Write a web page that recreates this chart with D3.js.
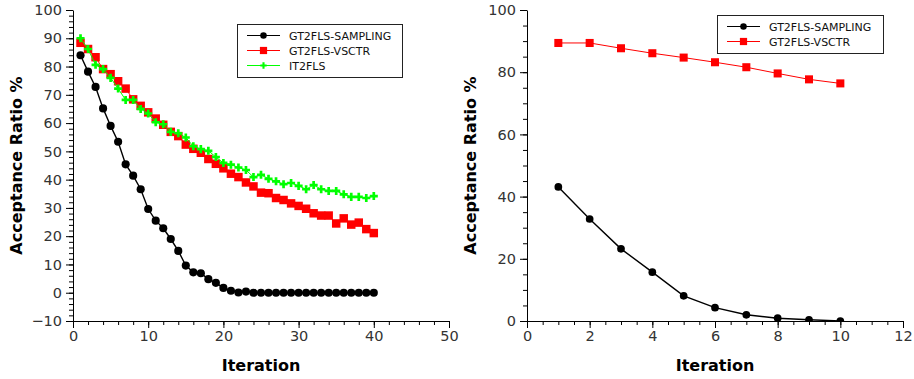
<!DOCTYPE html>
<html>
<head>
<meta charset="utf-8">
<script src="https://cdn.jsdelivr.net/npm/d3@7/dist/d3.min.js"></script>
<style>
  body { margin: 0; background: #fff; }
  svg { display: block; font-family: "DejaVu Sans", sans-serif; }
</style>
</head>
<body>
<svg id="chart" width="914" height="379"></svg>
<script>
// left panel: 40 iterations
const iterLeft = [1, 2, 3, 4, 5, 6, 7, 8, 9, 10, 11, 12, 13, 14, 15, 16, 17, 18, 19, 20,
  21, 22, 23, 24, 25, 26, 27, 28, 29, 30, 31, 32, 33, 34, 35, 36, 37, 38, 39, 40];
const samplingLeft = [84.0, 78.2, 72.8, 65.2, 59.0, 53.4, 45.4, 41.4, 36.6, 29.6,
  25.5, 22.8, 19.0, 14.8, 9.6, 7.2, 6.9, 4.8, 3.5, 1.7,
  0.7, 0.1, 0.4, 0, 0, 0, 0, 0, 0, 0,
  0, 0, 0, 0, 0, 0, 0, 0, 0, 0];
const vsctrLeft = [88.4, 86.2, 83.3, 79.1, 77.3, 74.8, 72.2, 68.4, 66.1, 63.8,
  61.6, 59.4, 56.9, 55.4, 52.4, 50.9, 49.5, 47.3, 45.6, 44.0,
  42.1, 40.9, 39.0, 37.6, 35.4, 35.2, 33.5, 32.8, 31.6, 30.7,
  29.7, 28.1, 27.3, 27.3, 24.5, 26.3, 24.1, 24.8, 22.5, 21.1];
const it2Left = [90.0, 86.2, 80.6, 79.1, 76.0, 72.2, 68.2, 68.2, 65.0, 63.4,
  60.3, 59.6, 56.9, 56.4, 54.9, 51.8, 50.8, 50.2, 48.0, 45.9,
  45.3, 44.3, 43.4, 40.9, 41.7, 40.3, 39.4, 38.4, 38.8, 37.8,
  36.6, 38.1, 36.6, 36.0, 36.0, 34.8, 33.9, 33.9, 33.5, 34.2];

// right panel: 10 iterations
const iterRight = [1, 2, 3, 4, 5, 6, 7, 8, 9, 10];
const samplingRight = [43.1, 32.8, 23.2, 15.7, 8.1, 4.3, 2.0, 0.9, 0.4, 0.0];
const vsctrRight = [89.4, 89.4, 87.7, 86.1, 84.7, 83.2, 81.6, 79.6, 77.7, 76.4];

const seriesNames = ['GT2FLS-SAMPLING', 'GT2FLS-VSCTR', 'IT2FLS'];
const yTitle = 'Acceptance Ratio %';
const xTitle = 'Iteration';

const styles = {
  'GT2FLS-SAMPLING': { color: '#000000', width: 1.4, symbol: d3.symbolCircle, size: 52, legendSize: 34 },
  'GT2FLS-VSCTR': { color: '#ff0000', width: 1, symbol: d3.symbolSquare, size: 72, legendSize: 52 },
  'IT2FLS': { color: '#00ff00', width: 1, symbol: d3.symbolCross, size: 36, legendSize: 22 }
};

const svg = d3.select('#chart');

function drawPanel(cfg) {
  const x = d3.scaleLinear().domain(cfg.xDomain).range([cfg.left, cfg.right]);
  const y = d3.scaleLinear().domain(cfg.yDomain).range([cfg.bottom, cfg.top]);
  const g = svg.append('g');

  const clipId = 'clip-' + cfg.id;
  svg.append('clipPath').attr('id', clipId)
    .append('rect')
    .attr('x', cfg.left).attr('y', cfg.top - 6)
    .attr('width', cfg.right - cfg.left + 6).attr('height', cfg.bottom - cfg.top + 6);

  // minor ticks first, majors on top
  g.append('g')
    .attr('transform', `translate(0,${cfg.bottom})`)
    .call(d3.axisBottom(x).tickValues(cfg.xMinor).tickSize(4).tickFormat(''))
    .call(a => a.select('.domain').remove());
  g.append('g')
    .attr('transform', `translate(${cfg.left},0)`)
    .call(d3.axisLeft(y).tickValues(cfg.yMinor).tickSize(4).tickFormat(''))
    .call(a => a.select('.domain').remove());

  const xAxis = g.append('g')
    .attr('transform', `translate(0,${cfg.bottom})`)
    .call(d3.axisBottom(x).tickValues(cfg.xMajor).tickSize(7).tickSizeOuter(0).tickPadding(3));
  const yAxis = g.append('g')
    .attr('transform', `translate(${cfg.left},0)`)
    .call(d3.axisLeft(y).tickValues(cfg.yMajor).tickSize(7).tickSizeOuter(0).tickPadding(4)
      .tickFormat(d => d < 0 ? '\u2212' + Math.abs(d) : d));

  [xAxis, yAxis].forEach(a => {
    a.selectAll('text').attr('font-size', 14.5).attr('fill', '#333').attr('font-family', 'DejaVu Sans');
    a.selectAll('line').attr('stroke', '#000');
    a.select('.domain').attr('stroke', '#000');
  });

  // axis titles
  g.append('text')
    .attr('x', (cfg.left + cfg.right) / 2).attr('y', 371)
    .attr('text-anchor', 'middle')
    .attr('font-size', 16).attr('font-weight', 'bold')
    .text(xTitle);
  g.append('text')
    .attr('transform', `translate(${cfg.left - 51},${(cfg.top + cfg.bottom) / 2}) rotate(-90)`)
    .attr('text-anchor', 'middle')
    .attr('font-size', 16).attr('font-weight', 'bold')
    .text(yTitle);

  const plot = g.append('g').attr('clip-path', `url(#${clipId})`);
  cfg.series.forEach(s => {
    const st = styles[s.name];
    const pts = cfg.iters.map((it, i) => [it, s.values[i]]);
    plot.append('path')
      .datum(pts)
      .attr('fill', 'none')
      .attr('stroke', st.color)
      .attr('stroke-width', st.width)
      .attr('d', d3.line().x(d => x(d[0])).y(d => y(d[1])));
    plot.selectAll(null)
      .data(pts)
      .join('path')
      .attr('transform', d => `translate(${x(d[0])},${y(d[1])})`)
      .attr('d', d3.symbol().type(st.symbol).size(cfg.markScale * st.size))
      .attr('fill', st.color);
  });

  // legend
  const lg = g.append('g').attr('transform', `translate(${cfg.legend.x},${cfg.legend.y})`);
  const rowH = 15;
  lg.append('rect')
    .attr('x', 0.5).attr('y', 0.5)
    .attr('width', cfg.legend.w).attr('height', cfg.series.length * rowH + 8)
    .attr('fill', '#fff').attr('stroke', '#222').attr('stroke-width', 1);
  cfg.series.forEach((s, i) => {
    const st = styles[s.name];
    const cy = 11.5 + i * rowH;
    lg.append('line')
      .attr('x1', 10).attr('x2', 43).attr('y1', cy).attr('y2', cy)
      .attr('stroke', st.color).attr('stroke-width', 1);
    lg.append('path')
      .attr('transform', `translate(26.5,${cy})`)
      .attr('d', d3.symbol().type(st.symbol).size(st.legendSize))
      .attr('fill', st.color);
    lg.append('text')
      .attr('x', 52).attr('y', cy + 4)
      .attr('font-size', 11).attr('fill', '#111')
      .text(s.name);
  });
}

drawPanel({
  id: 'left', left: 73, right: 449, top: 10, bottom: 321,
  xDomain: [0, 50], yDomain: [-10, 100],
  xMajor: d3.range(0, 51, 10), xMinor: d3.range(0, 51, 2),
  yMajor: d3.range(-10, 101, 10), yMinor: d3.range(-10, 101, 2),
  iters: iterLeft, markScale: 1,
  series: [
    { name: seriesNames[0], values: samplingLeft },
    { name: seriesNames[1], values: vsctrLeft },
    { name: seriesNames[2], values: it2Left }
  ],
  legend: { x: 237, y: 24, w: 165 }
});

drawPanel({
  id: 'right', left: 527, right: 903, top: 10, bottom: 321,
  xDomain: [0, 12], yDomain: [0, 100],
  xMajor: d3.range(0, 13, 2), xMinor: d3.range(0, 12.01, 0.5),
  yMajor: d3.range(0, 101, 20), yMinor: d3.range(0, 101, 5),
  iters: iterRight, markScale: 0.9,
  series: [
    { name: seriesNames[0], values: samplingRight },
    { name: seriesNames[1], values: vsctrRight }
  ],
  legend: { x: 717, y: 15, w: 166 }
});
</script>
</body>
</html>
